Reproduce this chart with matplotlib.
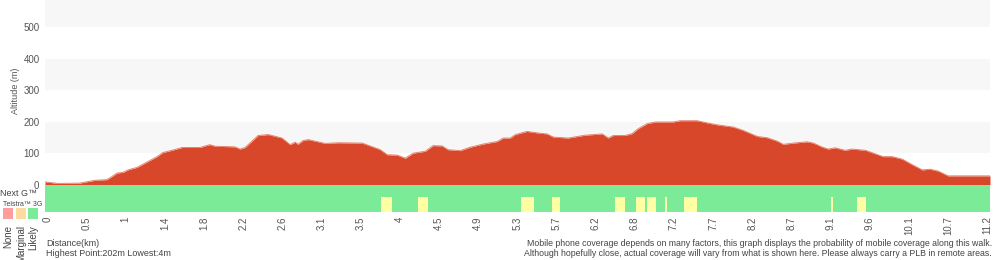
import matplotlib
matplotlib.use("Agg")
import matplotlib.pyplot as plt
from matplotlib.patches import Rectangle

plt.rcParams['font.family'] = ['Liberation Sans', 'DejaVu Sans']

# ---- data ----
# profile positions are in "tick index" units (ticks are evenly spaced along the axis)
profile_pos = [0, 0.33, 0.89, 1.10, 1.28, 1.58, 1.71, 1.84, 1.99, 2.12, 2.35, 2.50, 2.68,
               2.86, 3.01, 3.27, 3.50, 3.96, 4.09, 4.21, 4.34, 4.85, 4.98, 5.11, 5.44,
               5.70, 6.05, 6.26, 6.39, 6.46, 6.59, 6.72, 7.15, 7.48, 8.10, 8.30, 8.56,
               8.74, 8.99, 9.20, 9.40, 9.71, 9.91, 10.14, 10.29, 10.60, 10.86, 11.19,
               11.55, 11.70, 11.88, 12.01, 12.31, 12.59, 12.82, 12.98, 13.36, 13.79,
               14.23, 14.38, 14.51, 14.81, 14.99, 15.15, 15.38, 15.59, 16.04, 16.22,
               16.65, 16.91, 17.16, 17.57, 17.83, 18.19, 18.44, 18.70, 18.85, 19.11,
               19.46, 19.62, 19.85, 20.00, 20.18, 20.43, 20.61, 20.95, 21.20, 21.40,
               21.63, 21.89, 22.15, 22.40, 22.61, 22.81, 23.06, 23.32, 24.13]
profile_alt = [9, 4, 5, 10, 14, 16, 26, 37, 39, 47, 55, 65, 77,
               89, 102, 110, 118, 118, 123, 127, 122, 120, 113, 118, 156,
               159, 148, 127, 135, 128, 140, 143, 131, 133, 132, 123, 111,
               95, 94, 84, 100, 106, 124, 123, 111, 108, 119, 129,
               137, 148, 148, 159, 169, 164, 161, 151, 148, 157,
               161, 148, 156, 156, 162, 178, 194, 199, 199, 203,
               203, 196, 190, 183, 172, 153, 149, 138, 128, 132,
               136, 132, 119, 113, 117, 109, 113, 109, 98, 89,
               89, 81, 63, 47, 49, 43, 28, 28, 28]

tick_labels = ['0', '0.5', '1', '1.4', '1.8', '2.2', '2.6', '3.1', '3.5', '4', '4.5',
               '4.9', '5.3', '5.7', '6.2', '6.8', '7.2', '7.7', '8.2', '8.7', '9.1',
               '9.6', '10.1', '10.7', '11.2']
alt_ticks = [0, 100, 200, 300, 400, 500]

# 3G marginal coverage segments (start, end) in tick index units
marginal_3g = [(8.58, 8.86), (9.53, 9.78), (12.16, 12.49), (12.95, 13.15),
               (14.56, 14.81), (15.10, 15.33), (15.38, 15.61), (15.84, 15.89),
               (16.32, 16.65), (20.08, 20.13), (20.74, 20.97)]

# ---- styles ----
RED = '#d9472a'
GREEN = '#7beb97'
YELLOW = '#ffffa3'
BAND = '#f7f7f7'
TXT = '#444444'
W, H = 1000, 260
XMAX = 24.13
TICK_OFFSET = 0.06

fig = plt.figure(figsize=(W / 100, H / 100), dpi=100)

def fx(px):
    return px / W

def fy(py):
    return 1 - py / H

# altitude axes
ax = fig.add_axes([fx(45), fy(184.7), fx(945), 184.7 / H])
ax.set_xlim(0, XMAX)
ax.set_ylim(0, 586)
for lo in (100, 300, 500):
    ax.axhspan(lo, lo + 100, color=BAND, lw=0, zorder=0)
ax.fill_between(profile_pos, profile_alt, 0, color=RED, lw=0, zorder=2)
ax.plot(profile_pos, profile_alt, color='#e8836c', lw=0.7, zorder=3)
for s in ax.spines.values():
    s.set_visible(False)
ax.set_xticks([])
ax.set_yticks(alt_ticks)
ax.set_yticklabels([str(t) for t in alt_ticks])
ax.tick_params(axis='y', length=0, pad=4, labelsize=7, labelcolor='#555555')

# coverage axes
cax = fig.add_axes([fx(45), fy(212), fx(945), 27.3 / H])
cax.set_xlim(0, XMAX)
cax.set_ylim(0, 27.3)
cax.add_patch(Rectangle((0, 0), XMAX, 27.3, color=GREEN, lw=0))
for a, b in marginal_3g:
    cax.add_patch(Rectangle((a, 0), b - a, 15, color=YELLOW, lw=0))
for s in cax.spines.values():
    s.set_visible(False)
cax.set_yticks([])
cax.set_xticks([i + TICK_OFFSET for i in range(len(tick_labels))])
cax.set_xticklabels(tick_labels, rotation=90)
cax.tick_params(axis='x', length=0, pad=3, labelsize=7, labelcolor='#555555')

# texts
fig.text(fx(16), fy(91), 'Altitude (m)', rotation=90, ha='center', va='center',
         fontsize=6.5, color='#555555')
fig.text(fx(0.5), fy(193.5), 'Next G\u2122', ha='left', va='center', fontsize=6.5, color=TXT)
fig.text(fx(3), fy(204.5), 'Telstra\u2122 3G', ha='left', va='center', fontsize=5, color=TXT)

legend_colors = ['#ff9c9c', '#fddb9e', '#7beb97']
legend_x = [3, 15.5, 28]
legend_names = ['None', 'Marginal', 'Likely']
for c, x0, name in zip(legend_colors, legend_x, legend_names):
    fig.patches.append(Rectangle((fx(x0), fy(219)), fx(10), 11 / H, color=c, lw=0,
                                 transform=fig.transFigure, figure=fig))
    fig.text(fx(x0 + 5.5), fy(225), name, rotation=90, ha='center', va='top',
             fontsize=7, color=TXT)

fig.text(fx(46), fy(244), 'Distance(km)', ha='left', va='center', fontsize=6.5, color=TXT)
fig.text(fx(46), fy(253.5), 'Highest Point:202m Lowest:4m', ha='left', va='center',
         fontsize=6.5, color=TXT)
fig.text(fx(992), fy(244),
         'Mobile phone coverage depends on many factors, this graph displays the probability of mobile coverage along this walk.',
         ha='right', va='center', fontsize=6.35, color=TXT)
fig.text(fx(992), fy(253.5),
         'Although hopefully close, actual coverage will vary from what is shown here. Please always carry a PLB in remote areas.',
         ha='right', va='center', fontsize=6.35, color=TXT)

fig.savefig('out.png', dpi=100)
